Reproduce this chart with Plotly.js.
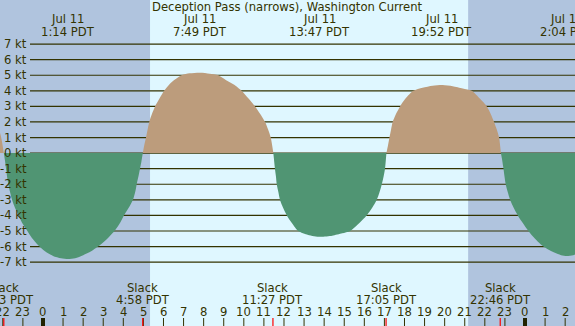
<!DOCTYPE html>
<html>
<head>
<meta charset="utf-8">
<script src="https://cdn.plot.ly/plotly-3.0.1.min.js"></script>
<style>html,body{margin:0;padding:0;background:#fff}#chart{width:575px;height:326px}</style>
</head>
<body>
<div id="chart"></div>
<script>
// Hours are measured from Jul 11 00:00 PDT
const floodPreT = [-2.5, -2.3, -2.14, -2.05, -1.95];
const floodPreV = [2.4, 1.9, 1.3, 0.8, 0];

const ebb1T = [-1.95, -1.88, -1.82, -1.74, -1.64, -1.54, -1.4, -1.25, -1.05, -0.8, -0.55, -0.25, 0.1, 0.5, 0.9, 1.25, 1.6, 2.0, 2.4, 2.84, 3.2, 3.59, 3.85, 4.08, 4.3, 4.48, 4.6, 4.68, 4.76, 4.83, 4.9, 4.97];
const ebb1V = [0, -0.6, -1.2, -1.9, -2.5, -3.0, -3.5, -3.9, -4.45, -4.95, -5.45, -5.9, -6.3, -6.6, -6.75, -6.8, -6.75, -6.55, -6.3, -5.9, -5.5, -4.95, -4.45, -3.9, -3.45, -3.0, -2.45, -1.9, -1.45, -1.0, -0.55, 0];

const flood2T = [4.97, 5.05, 5.13, 5.2, 5.29, 5.42, 5.58, 5.8, 6.03, 6.4, 6.9, 7.3, 7.82, 8.3, 8.73, 9.1, 9.5, 9.89, 10.2, 10.56, 10.8, 11.06, 11.2, 11.34, 11.47];
const flood2V = [0, 0.55, 1.0, 1.45, 2.0, 2.5, 3.0, 3.5, 4.0, 4.55, 5.0, 5.12, 5.16, 5.1, 5.0, 4.7, 4.4, 4.0, 3.55, 3.0, 2.55, 2.0, 1.55, 1.0, 0];

const ebb3T = [11.47, 11.51, 11.55, 11.6, 11.64, 11.72, 11.8, 11.95, 12.14, 12.4, 12.71, 13.2, 13.8, 14.4, 14.9, 15.29, 15.7, 16.12, 16.4, 16.62, 16.76, 16.87, 16.96, 17.03, 17.1];
const ebb3V = [0, -0.5, -1.0, -1.5, -2.0, -2.5, -3.0, -3.5, -4.0, -4.5, -5.0, -5.25, -5.37, -5.3, -5.15, -5.0, -4.55, -4.0, -3.5, -3.0, -2.5, -2.0, -1.5, -1.0, 0];

const flood4T = [17.1, 17.18, 17.25, 17.33, 17.41, 17.57, 17.78, 18.05, 18.44, 18.9, 19.4, 19.9, 20.4, 20.9, 21.35, 21.75, 22.1, 22.3, 22.46, 22.6, 22.71, 22.8];
const flood4V = [0, 0.5, 1.0, 1.5, 2.0, 2.5, 3.0, 3.5, 4.0, 4.2, 4.33, 4.37, 4.3, 4.15, 4.0, 3.5, 3.0, 2.5, 2.0, 1.5, 1.0, 0];

const ebb5T = [22.8, 22.87, 22.93, 22.98, 23.04, 23.14, 23.26, 23.43, 23.64, 23.9, 24.17, 24.5, 24.92, 25.4, 25.8, 26.08, 26.4, 26.7];
const ebb5V = [0, -0.5, -1.0, -1.5, -2.0, -2.5, -3.0, -3.5, -4.0, -4.5, -5.0, -5.5, -6.0, -6.35, -6.55, -6.6, -6.55, -6.4];

// Max / min current events (top labels)
const peakT = [1.233, 7.817, 13.783, 19.867, 26.067];
const peakDate = ["Jul 11", "Jul 11", "Jul 11", "Jul 11", "Jul 12"];
const peakLabel = ["1:14 PDT", "7:49 PDT", "13:47 PDT", "19:52 PDT", "2:04 PDT"];

// Slack events (bottom labels)
const slackT = [-1.95, 4.967, 11.45, 17.083, 22.767];
const slackLabel = ["22:03 PDT", "4:58 PDT", "11:27 PDT", "17:05 PDT", "22:46 PDT"];

// Hour ticks
const hourT = [-2, -1, 0, 1, 2, 3, 4, 5, 6, 7, 8, 9, 10, 11, 12, 13, 14, 15, 16, 17, 18, 19, 20, 21, 22, 23, 24, 25, 26];
const hourLabel = ["22", "23", "0", "1", "2", "3", "4", "5", "6", "7", "8", "9", "10", "11", "12", "13", "14", "15", "16", "17", "18", "19", "20", "21", "22", "23", "0", "1", "2"];
const midnightT = [0, 24];

// Speed grid
const ktLevels = [7, 6, 5, 4, 3, 2, 1, 0, -1, -2, -3, -4, -5, -6, -7];

// Daylight
const sunriseT = 5.33;
const sunsetT = 21.17;

const W = 575, H = 326;
const xr = [-2.14, 26.49];
const yr = [-11.1, 9.83];
const ink = '#333300';
const FLOOD = 'rgb(188,156,124)';
const EBB = 'rgb(80,149,115)';
const NIGHT = 'rgb(176,196,222)';
const DAY = 'rgb(223,247,255)';
const FONT = {family: 'DejaVu Sans', size: 11.6, color: ink};
const py = px => 1 - px / H;

function seg(t, v, c) {
  return {x: t, y: v, type: 'scatter', mode: 'lines', fill: 'tozeroy',
          fillcolor: c, line: {width: 0, color: c, shape: 'spline', smoothing: 0.7},
          hoverinfo: 'skip', showlegend: false};
}
const data = [
  seg(floodPreT, floodPreV, FLOOD),
  seg(ebb1T, ebb1V, EBB),
  seg(flood2T, flood2V, FLOOD),
  seg(ebb3T, ebb3V, EBB),
  seg(flood4T, flood4V, FLOOD),
  seg(ebb5T, ebb5V, EBB)
];

const shapes = [];
shapes.push({type: 'rect', xref: 'x', yref: 'paper', x0: -5, x1: sunriseT, y0: 0, y1: 1, fillcolor: NIGHT, line: {width: 0}, layer: 'below'});
shapes.push({type: 'rect', xref: 'x', yref: 'paper', x0: sunsetT, x1: 30, y0: 0, y1: 1, fillcolor: NIGHT, line: {width: 0}, layer: 'below'});
ktLevels.forEach(k => shapes.push({type: 'line', xref: 'paper', yref: 'y', x0: 30 / W, x1: 1, y0: k, y1: k, line: {color: ink, width: 1.2}, layer: 'below'}));
hourT.forEach(h => shapes.push({type: 'line', xref: 'x', yref: 'paper', x0: h, x1: h, y0: 0, y1: 8 / H, line: {color: ink, width: 1}}));
midnightT.forEach(h => shapes.push({type: 'line', xref: 'x', yref: 'paper', x0: h, x1: h, y0: 0, y1: 8 / H, line: {color: '#222200', width: 4}}));
slackT.forEach(h => shapes.push({type: 'line', xref: 'x', yref: 'paper', x0: h, x1: h, y0: 0, y1: 8 / H, line: {color: '#ff0000', width: 1.2}}));

const ann = [];
function txt(x, xref, y, s, xanchor) {
  ann.push({x: x, xref: xref, y: y, yref: 'paper', text: s, showarrow: false,
            xanchor: xanchor || 'center', yanchor: 'middle', font: FONT});
}
txt(0.5, 'paper', py(7), 'Deception Pass (narrows), Washington Current');
peakT.forEach((t, i) => { txt(t, 'x', py(18.5), peakDate[i]); txt(t, 'x', py(31.5), peakLabel[i]); });
slackT.forEach((t, i) => { txt(t, 'x', py(287.5), 'Slack'); txt(t, 'x', py(299.5), slackLabel[i]); });
hourT.forEach((t, i) => txt(t, 'x', py(311.5), hourLabel[i]));
ktLevels.forEach(k => ann.push({x: 28.5 / W, xref: 'paper', y: k, yref: 'y', text: k + ' kt', showarrow: false,
  xanchor: 'right', yanchor: 'middle', font: FONT}));

const layout = {
  width: W, height: H,
  margin: {l: 0, r: 0, t: 0, b: 0, pad: 0},
  paper_bgcolor: DAY, plot_bgcolor: DAY,
  xaxis: {range: xr, visible: false, fixedrange: true},
  yaxis: {range: yr, visible: false, fixedrange: true},
  shapes: shapes, annotations: ann, showlegend: false
};
Plotly.newPlot('chart', data, layout, {displayModeBar: false, staticPlot: true});
</script>
</body>
</html>
